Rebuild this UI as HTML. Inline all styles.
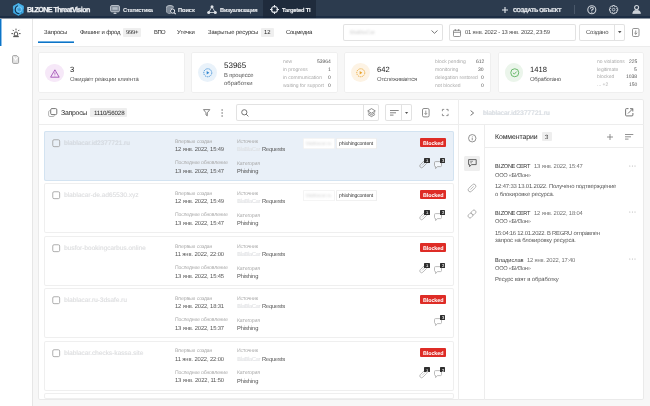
<!DOCTYPE html>
<html><head><meta charset="utf-8"><style>
html,body{margin:0;padding:0;width:650px;height:406px;overflow:hidden;background:#f7f7f7;}
body{position:relative;font-family:"Liberation Sans", sans-serif;}
.t{position:absolute;white-space:nowrap;will-change:transform;text-rendering:geometricPrecision;}
.r{position:absolute;box-sizing:border-box;}
svg.r{overflow:visible;}
</style></head><body>
<div class="r" style="left:0px;top:0px;width:650px;height:406px;background:#f7f7f7;"></div>
<div class="r" style="left:0px;top:0px;width:650px;height:18px;background:#2c3b4e;"></div>
<div class="r" style="left:0px;top:16px;width:650px;height:2px;background:#1c2d44;"></div>
<div class="r" style="left:0px;top:18px;width:650px;height:1px;background:#8d96a1;"></div>
<div class="r" style="left:263px;top:0px;width:53px;height:16px;background:#1f2b3c;"></div>
<div class="r" style="left:263px;top:16px;width:53px;height:2px;background:#18263a;"></div>
<div class="r" style="left:0px;top:19px;width:32px;height:387px;background:#ffffff;"></div>
<div class="r" style="left:32px;top:19px;width:1px;height:387px;background:#e6e6e6;"></div>
<div class="r" style="left:0px;top:19px;width:1px;height:27px;background:#0d74c6;"></div>
<div class="r" style="left:1px;top:19px;width:1px;height:27px;background:#8cc0ea;"></div>
<div class="r" style="left:33px;top:19px;width:617px;height:27px;background:#ffffff;"></div>
<div class="r" style="left:33px;top:46px;width:617px;height:1px;background:#ececec;"></div>
<svg class="r" style="left:12px;top:2px;" width="13" height="15" viewBox="0 0 13 15"><path d="M6.4 1.0 L11.9 4.0 V11.0 L6.4 14.1 L0.9 11.0 V4.0 Z" fill="#3eaae6" stroke="#16283d" stroke-width="0.4"/><path d="M6.4 1.0 L11.9 4.0 V7 L0.9 7 V4.0 Z" fill="#52b9ee" opacity="0.6"/><path d="M4.6 4.2 Q2.2 7.2 3.9 10 Q5 11.6 7.4 11.7" fill="none" stroke="#14304d" stroke-width="1.1"/><circle cx="7.2" cy="7.4" r="2.5" fill="none" stroke="#a5def8" stroke-width="0.6"/><path d="M5 6.4 L9.3 8.4 M5.6 8.8 L8.8 6 M7.2 4.9 V9.9" stroke="#3a8cc4" stroke-width="0.45"/><circle cx="5.4" cy="3.9" r="0.55" fill="#14304d"/><circle cx="9.6" cy="10.9" r="0.45" fill="#14304d"/></svg>
<div class="t" style="left:27.30px;top:6.22px;font-size:7.2px;line-height:7.2px;color:#f2f4f7;font-weight:700;letter-spacing:-0.588px;-webkit-text-stroke:0.25px #f2f4f7;">BI.ZONE ThreatVision</div>
<svg class="r" style="left:110px;top:5px;" width="10" height="9" viewBox="0 0 10 9"><rect x="0.6" y="0.6" width="8.8" height="6.2" rx="1.2" fill="#7d8896" stroke="#c3c9d1" stroke-width="1"/><rect x="2.4" y="2.2" width="5.2" height="2.6" fill="#b4bcc6"/><path d="M3 9 L5 7.3 L7 9 Z" fill="#c3c9d1"/></svg>
<div class="t" style="left:122.80px;top:8.76px;font-size:5.7px;line-height:5.7px;color:#e8ebef;font-weight:700;letter-spacing:-0.2px;-webkit-text-stroke:0.1px currentColor;">Статистика</div>
<svg class="r" style="left:165.5px;top:4.8px;" width="10.5" height="9.5" viewBox="0 0 10.5 9.5"><ellipse cx="4" cy="2" rx="3.4" ry="1.5" fill="#7d8896" stroke="#c3c9d1" stroke-width="0.9"/><path d="M0.6 2 V7.2 Q2 8.6 4.6 8.4 M0.6 4.6 Q2 6 4 6" fill="none" stroke="#c3c9d1" stroke-width="0.9"/><path d="M0.6 2.2 V7 Q2 8.4 4.4 8.2 L4.6 3.4 Q7.4 3.2 7.4 2 Z" fill="#7d8896"/><circle cx="6.6" cy="6.1" r="2.1" fill="#2c3b4e" stroke="#e6e9ee" stroke-width="1"/><path d="M8.1 7.6 L9.7 9.2" stroke="#e6e9ee" stroke-width="1.1"/></svg>
<div class="t" style="left:177.60px;top:8.76px;font-size:5.7px;line-height:5.7px;color:#e8ebef;font-weight:700;letter-spacing:-0.07px;-webkit-text-stroke:0.1px currentColor;">Поиск</div>
<svg class="r" style="left:207px;top:4.8px;" width="10" height="9.5" viewBox="0 0 10 9.5"><path d="M5 1.8 L1.7 7.5 H8.3 Z" fill="none" stroke="#cdd2d9" stroke-width="0.9"/><circle cx="5" cy="1.8" r="1.5" fill="#dfe3e8"/><circle cx="1.7" cy="7.5" r="1.5" fill="#dfe3e8"/><circle cx="8.3" cy="7.5" r="1.5" fill="#dfe3e8"/></svg>
<div class="t" style="left:219.50px;top:8.76px;font-size:5.7px;line-height:5.7px;color:#e8ebef;font-weight:700;letter-spacing:-0.217px;-webkit-text-stroke:0.1px currentColor;">Визуализация</div>
<svg class="r" style="left:269.5px;top:4.8px;" width="9" height="9" viewBox="0 0 9 9"><circle cx="4.5" cy="4.5" r="3" fill="none" stroke="#e6e9ee" stroke-width="1.1"/><path d="M4.5 0 V2.6 M4.5 6.4 V9 M0 4.5 H2.6 M6.4 4.5 H9" stroke="#e6e9ee" stroke-width="1.1"/></svg>
<div class="t" style="left:282.00px;top:8.76px;font-size:5.7px;line-height:5.7px;color:#f2f4f7;font-weight:700;letter-spacing:-0.163px;-webkit-text-stroke:0.1px currentColor;">Targeted TI</div>
<svg class="r" style="left:502px;top:6.5px;" width="6" height="6" viewBox="0 0 6 6"><path d="M3 0 V6 M0 3 H6" stroke="#e6e9ee" stroke-width="1.1"/></svg>
<div class="t" style="left:512.70px;top:8.91px;font-size:5.6px;line-height:5.6px;color:#e8ebef;font-weight:700;letter-spacing:-0.294px;-webkit-text-stroke:0.2px currentColor;">СОЗДАТЬ ОБЪЕКТ</div>
<div class="r" style="left:573.5px;top:5px;width:0.8px;height:8.5px;background:#4a586a;"></div>
<svg class="r" style="left:586.5px;top:5.3px;" width="10" height="10" viewBox="0 0 10 10"><circle cx="4.8" cy="4.7" r="4" fill="none" stroke="#cdd2d9" stroke-width="1.1"/><path d="M3.4 3.7 Q3.4 2.2 4.8 2.2 Q6.3 2.2 6.3 3.6 Q6.3 4.6 4.8 5.1 V5.9" fill="none" stroke="#cdd2d9" stroke-width="1.1"/><circle cx="4.8" cy="7.2" r="0.6" fill="#cdd2d9"/></svg>
<svg class="r" style="left:609px;top:5.4px;" width="10" height="10" viewBox="0 0 10 10"><path d="M8.70 3.68 L8.70 5.52 L7.48 5.75 L7.45 5.82 L8.15 6.85 L6.85 8.15 L5.82 7.45 L5.75 7.48 L5.52 8.70 L3.68 8.70 L3.45 7.48 L3.38 7.45 L2.35 8.15 L1.05 6.85 L1.75 5.82 L1.72 5.75 L0.50 5.52 L0.50 3.68 L1.72 3.45 L1.75 3.38 L1.05 2.35 L2.35 1.05 L3.38 1.75 L3.45 1.72 L3.68 0.50 L5.52 0.50 L5.75 1.72 L5.82 1.75 L6.85 1.05 L8.15 2.35 L7.45 3.38 L7.48 3.45 Z" fill="none" stroke="#cdd2d9" stroke-width="1" stroke-linejoin="round"/><circle cx="4.6" cy="4.6" r="1.3" fill="none" stroke="#cdd2d9" stroke-width="0.9"/></svg>
<svg class="r" style="left:631.5px;top:5.3px;" width="10" height="9" viewBox="0 0 10 9"><circle cx="4.6" cy="2.5" r="2" fill="none" stroke="#cdd2d9" stroke-width="1.1"/><path d="M0.7 8.4 Q0.8 5.3 4.6 5.3 Q8.4 5.3 8.5 8.4 Z" fill="#cdd2d9" stroke="#cdd2d9" stroke-width="0.8"/></svg>
<svg class="r" style="left:11px;top:27.5px;" width="10" height="10" viewBox="0 0 10 10"><path d="M3.3 7.8 V6 Q3.3 3.9 5 3.9 Q6.7 3.9 6.7 6 V7.8 Z" fill="none" stroke="#555" stroke-width="1"/><path d="M2.2 8.6 H7.8" stroke="#555" stroke-width="1.1"/><path d="M5 0.6 V2.3 M1.7 1.9 L2.9 3.1 M8.3 1.9 L7.1 3.1 M0.4 5.6 H2.1 M7.9 5.6 H9.6" stroke="#555" stroke-width="1"/></svg>
<svg class="r" style="left:12.3px;top:54.8px;" width="7.5" height="9" viewBox="0 0 7.5 9"><path d="M0.6 1.6 Q0.6 0.6 1.6 0.6 H4.8 L6.6 2.4 V7.4 Q6.6 8.4 5.6 8.4 H1.6 Q0.6 8.4 0.6 7.4 Z" fill="#e4e4e4" stroke="#9a9a9a" stroke-width="0.9"/><path d="M1.6 1.8 L3.5 4.8 L5.4 2.4" fill="none" stroke="#fff" stroke-width="1.1"/></svg>
<div class="t" style="left:44.20px;top:31.29px;font-size:5.9px;line-height:5.9px;color:#2a2a2a;font-weight:400;letter-spacing:-0.094px;">Запросы</div>
<div class="r" style="left:38px;top:42px;width:36px;height:1px;background:#0d74c6;"></div>
<div class="r" style="left:38px;top:41px;width:36px;height:1px;background:#6aaee3;"></div>
<div class="t" style="left:79.50px;top:31.29px;font-size:5.9px;line-height:5.9px;color:#2a2a2a;font-weight:400;letter-spacing:-0.172px;">Фишинг и фрод</div>
<div class="r" style="left:122.7px;top:27.5px;width:18.5px;height:9.3px;background:#efefef;border-radius:1px;"></div>
<div class="t" style="left:125.80px;top:31.29px;font-size:5.9px;line-height:5.9px;color:#2a2a2a;font-weight:400;letter-spacing:-0.294px;">999+</div>
<div class="t" style="left:153.50px;top:31.29px;font-size:5.9px;line-height:5.9px;color:#2a2a2a;font-weight:400;letter-spacing:-0.525px;">ВПО</div>
<div class="t" style="left:177.30px;top:31.29px;font-size:5.9px;line-height:5.9px;color:#2a2a2a;font-weight:400;letter-spacing:-0.118px;">Утечки</div>
<div class="t" style="left:208.00px;top:31.29px;font-size:5.9px;line-height:5.9px;color:#2a2a2a;font-weight:400;letter-spacing:-0.094px;">Закрытые ресурсы</div>
<div class="r" style="left:261px;top:27.6px;width:12.6px;height:9px;background:#efefef;border-radius:1px;"></div>
<div class="t" style="left:263.60px;top:31.29px;font-size:5.9px;line-height:5.9px;color:#2a2a2a;font-weight:400;">12</div>
<div class="t" style="left:286.40px;top:31.29px;font-size:5.9px;line-height:5.9px;color:#2a2a2a;font-weight:400;letter-spacing:-0.244px;">Соцмедиа</div>
<div class="r" style="left:343px;top:24px;width:100px;height:17px;background:#fff;box-shadow:inset 0 0 0 1px #e2e2e2;border-radius:2px;"></div>
<div class="t" style="left:349.70px;top:31.32px;font-size:5.6px;line-height:5.6px;color:#d0d0d0;font-weight:400;filter:blur(0.8px);">BlaBlaCar</div>
<svg class="r" style="left:431px;top:30px;" width="7" height="4" viewBox="0 0 7 4"><path d="M0.5 0.5 L3.5 3.3 L6.5 0.5" fill="none" stroke="#666" stroke-width="0.9"/></svg>
<div class="r" style="left:449px;top:24px;width:127px;height:17px;background:#fff;box-shadow:inset 0 0 0 1px #e2e2e2;border-radius:2px;"></div>
<svg class="r" style="left:453px;top:28.5px;" width="8" height="8" viewBox="0 0 8 8"><rect x="0.5" y="1.3" width="7" height="6.2" rx="0.8" fill="none" stroke="#777" stroke-width="0.8"/><path d="M0.5 3.3 H7.5 M2.3 0 V2 M5.7 0 V2" stroke="#777" stroke-width="0.8"/></svg>
<div class="t" style="left:465.00px;top:31.32px;font-size:5.8px;line-height:5.8px;color:#4a4a4a;font-weight:400;letter-spacing:-0.154px;">01 янв. 2022 - 13 янв. 2022, 23:59</div>
<div class="r" style="left:579px;top:24px;width:46px;height:17px;background:#fff;box-shadow:inset 0 0 0 1px #e2e2e2;border-radius:2px;"></div>
<div class="r" style="left:614px;top:24px;width:1px;height:17px;background:#e2e2e2;"></div>
<div class="t" style="left:585.70px;top:31.29px;font-size:5.9px;line-height:5.9px;color:#4a4a4a;font-weight:400;letter-spacing:-0.13px;">Создано</div>
<svg class="r" style="left:617.5px;top:31px;" width="3.5" height="2.5" viewBox="0 0 3.5 2.5"><path d="M0 0 H3.5 L1.75 2.2 Z" fill="#555"/></svg>
<svg class="r" style="left:632px;top:28px;" width="8" height="9" viewBox="0 0 8 9"><rect x="0.5" y="0.5" width="6.5" height="8" rx="1.2" fill="none" stroke="#777" stroke-width="0.8"/><path d="M3.75 2.5 V6.2 M2.3 4.9 L3.75 6.3 L5.2 4.9" fill="none" stroke="#777" stroke-width="0.8"/></svg>
<div class="r" style="left:38px;top:52px;width:147px;height:41px;background:#fff;box-shadow:inset 0 0 0 1px #efefef;border-radius:2px;"></div>
<div class="r" style="left:191px;top:52px;width:147px;height:41px;background:#fff;box-shadow:inset 0 0 0 1px #efefef;border-radius:2px;"></div>
<div class="r" style="left:344px;top:52px;width:147px;height:41px;background:#fff;box-shadow:inset 0 0 0 1px #efefef;border-radius:2px;"></div>
<div class="r" style="left:498px;top:52px;width:146px;height:41px;background:#fff;box-shadow:inset 0 0 0 1px #efefef;border-radius:2px;"></div>
<div class="r" style="left:44.9px;top:63.5px;width:18.7px;height:18.7px;background:#f6e8f8;border-radius:10px;"></div>
<svg class="r" style="left:49.7px;top:68.5px;" width="10" height="9" viewBox="0 0 10 9"><path d="M4.9 0.8 L9.2 8.2 H0.6 Z" fill="none" stroke="#a150b5" stroke-width="0.9" stroke-linejoin="round"/><path d="M4.9 3.4 V5.7" stroke="#a150b5" stroke-width="0.8"/><circle cx="4.9" cy="6.9" r="0.4" fill="#a150b5"/></svg>
<div class="t" style="left:70.30px;top:65.90px;font-size:7.6px;line-height:7.6px;color:#222;font-weight:400;">3</div>
<div class="t" style="left:70.30px;top:77.59px;font-size:5.9px;line-height:5.9px;color:#555;font-weight:400;letter-spacing:-0.139px;">Ожидает реакции клиента</div>
<div class="r" style="left:198px;top:63.4px;width:18.8px;height:18.8px;background:#e9f2fa;border-radius:10px;"></div>
<svg class="r" style="left:203px;top:68.3px;" width="9.5" height="9.5" viewBox="0 0 9.5 9.5"><circle cx="4.75" cy="4.75" r="4" fill="none" stroke="#2f86d2" stroke-width="0.9" stroke-dasharray="1.2 0.8"/><path d="M3.7 3 L6.3 4.75 L3.7 6.5 Z" fill="#2f86d2"/></svg>
<div class="t" style="left:223.50px;top:62.13px;font-size:8px;line-height:8px;color:#222;font-weight:400;">53965</div>
<div class="t" style="left:223.50px;top:74.19px;font-size:5.9px;line-height:5.9px;color:#555;font-weight:400;letter-spacing:-0.174px;">В процессе</div>
<div class="t" style="left:223.50px;top:81.59px;font-size:5.9px;line-height:5.9px;color:#555;font-weight:400;letter-spacing:0.025px;">обработки</div>
<div class="t" style="left:283.00px;top:60.14px;font-size:5px;line-height:5px;color:#aaa;font-weight:400;">new</div>
<div class="t" style="right:319.20px;top:60.14px;font-size:5px;line-height:5px;color:#555;font-weight:400;">53964</div>
<div class="t" style="left:283.00px;top:67.94px;font-size:5px;line-height:5px;color:#aaa;font-weight:400;">in progress</div>
<div class="t" style="right:319.20px;top:67.94px;font-size:5px;line-height:5px;color:#555;font-weight:400;">1</div>
<div class="t" style="left:283.00px;top:75.74px;font-size:5px;line-height:5px;color:#aaa;font-weight:400;">in communication</div>
<div class="t" style="right:319.20px;top:75.74px;font-size:5px;line-height:5px;color:#555;font-weight:400;">0</div>
<div class="t" style="left:283.00px;top:83.54px;font-size:5px;line-height:5px;color:#aaa;font-weight:400;">waiting for support</div>
<div class="t" style="right:319.20px;top:83.54px;font-size:5px;line-height:5px;color:#555;font-weight:400;">0</div>
<div class="r" style="left:351.4px;top:63.4px;width:18.8px;height:18.8px;background:#fdf3e4;border-radius:10px;"></div>
<svg class="r" style="left:356px;top:68.3px;" width="9.5" height="9.5" viewBox="0 0 9.5 9.5"><circle cx="4.75" cy="4.75" r="4" fill="none" stroke="#e9a32a" stroke-width="0.9" stroke-dasharray="1.2 0.8"/><path d="M3.7 3 L6.3 4.75 L3.7 6.5 Z" fill="#e9a32a"/></svg>
<div class="t" style="left:376.80px;top:65.90px;font-size:7.6px;line-height:7.6px;color:#222;font-weight:400;">642</div>
<div class="t" style="left:376.80px;top:77.59px;font-size:5.9px;line-height:5.9px;color:#555;font-weight:400;letter-spacing:-0.178px;">Отслеживается</div>
<div class="t" style="left:435.40px;top:60.14px;font-size:5px;line-height:5px;color:#aaa;font-weight:400;">block pending</div>
<div class="t" style="right:166.00px;top:60.14px;font-size:5px;line-height:5px;color:#555;font-weight:400;">612</div>
<div class="t" style="left:435.40px;top:67.94px;font-size:5px;line-height:5px;color:#aaa;font-weight:400;">monitoring</div>
<div class="t" style="right:166.00px;top:67.94px;font-size:5px;line-height:5px;color:#555;font-weight:400;">30</div>
<div class="t" style="left:435.40px;top:75.74px;font-size:5px;line-height:5px;color:#aaa;font-weight:400;">delegation restored</div>
<div class="t" style="right:166.00px;top:75.74px;font-size:5px;line-height:5px;color:#555;font-weight:400;">0</div>
<div class="t" style="left:435.40px;top:83.54px;font-size:5px;line-height:5px;color:#aaa;font-weight:400;">not blocked</div>
<div class="t" style="right:166.00px;top:83.54px;font-size:5px;line-height:5px;color:#555;font-weight:400;">0</div>
<div class="r" style="left:504.7px;top:63.4px;width:18.8px;height:18.8px;background:#ebf5eb;border-radius:10px;"></div>
<svg class="r" style="left:509.5px;top:68.3px;" width="9.5" height="9.5" viewBox="0 0 9.5 9.5"><circle cx="4.75" cy="4.75" r="4" fill="none" stroke="#5cb35f" stroke-width="0.9"/><path d="M2.9 4.8 L4.3 6.1 L6.6 3.6" fill="none" stroke="#5cb35f" stroke-width="0.9"/></svg>
<div class="t" style="left:530.00px;top:65.90px;font-size:7.6px;line-height:7.6px;color:#222;font-weight:400;">1418</div>
<div class="t" style="left:530.00px;top:77.59px;font-size:5.9px;line-height:5.9px;color:#555;font-weight:400;letter-spacing:-0.263px;">Обработано</div>
<div class="t" style="left:597.00px;top:59.74px;font-size:5px;line-height:5px;color:#aaa;font-weight:400;">no violations</div>
<div class="t" style="right:13.00px;top:59.74px;font-size:5px;line-height:5px;color:#555;font-weight:400;">225</div>
<div class="t" style="left:597.00px;top:67.59px;font-size:5px;line-height:5px;color:#aaa;font-weight:400;">legitimate</div>
<div class="t" style="right:13.00px;top:67.59px;font-size:5px;line-height:5px;color:#555;font-weight:400;">5</div>
<div class="t" style="left:597.00px;top:75.44px;font-size:5px;line-height:5px;color:#aaa;font-weight:400;">blocked</div>
<div class="t" style="right:13.00px;top:75.44px;font-size:5px;line-height:5px;color:#555;font-weight:400;">1038</div>
<div class="t" style="left:597.00px;top:83.29px;font-size:5px;line-height:5px;color:#aaa;font-weight:400;">... +2</div>
<div class="t" style="right:13.00px;top:83.29px;font-size:5px;line-height:5px;color:#555;font-weight:400;">150</div>
<div class="r" style="left:38px;top:99px;width:606px;height:301px;background:#fff;box-shadow:inset 0 0 0 1px #eaeaea;border-radius:2px;"></div>
<div class="r" style="left:458px;top:99px;width:1px;height:301px;background:#ededed;"></div>
<div class="r" style="left:38px;top:124px;width:606px;height:1px;background:#ededed;"></div>
<div class="r" style="left:484px;top:124px;width:1px;height:276px;background:#ededed;"></div>
<div class="r" style="left:485px;top:147px;width:158px;height:1px;background:#ededed;"></div>
<svg class="r" style="left:48px;top:108.3px;" width="9.5" height="9" viewBox="0 0 9.5 9"><path d="M1.9 2.6 Q0.6 2.6 0.6 3.9 V7.3 Q0.6 8.5 1.9 8.5 H5.2 Q6.4 8.5 6.4 7.3" fill="none" stroke="#aaa" stroke-width="0.9"/><rect x="2.7" y="0.6" width="6.1" height="6" rx="1.2" fill="#fff" stroke="#666" stroke-width="0.9"/></svg>
<div class="t" style="left:60.80px;top:111.14px;font-size:6.9px;line-height:6.9px;color:#262626;font-weight:400;letter-spacing:-0.249px;">Запросы</div>
<div class="r" style="left:90px;top:108px;width:37px;height:9px;background:#eeeeee;border-radius:1px;"></div>
<div class="t" style="left:93.60px;top:111.10px;font-size:6.2px;line-height:6.2px;color:#262626;font-weight:400;letter-spacing:-0.131px;">1110/56028</div>
<svg class="r" style="left:203px;top:109px;" width="7.5" height="7.5" viewBox="0 0 7.5 7.5"><path d="M0.5 0.6 H6.8 L4.3 3.8 V6.8 L3 6 V3.8 Z" fill="none" stroke="#666" stroke-width="0.8" stroke-linejoin="round"/></svg>
<svg class="r" style="left:221px;top:109px;" width="2.5" height="8" viewBox="0 0 2.5 8"><circle cx="1.1" cy="1" r="0.65" fill="#555"/><circle cx="1.1" cy="4" r="0.65" fill="#555"/><circle cx="1.1" cy="7" r="0.65" fill="#555"/></svg>
<div class="r" style="left:236px;top:104px;width:143px;height:17px;background:#fff;box-shadow:inset 0 0 0 1px #e2e2e2;border-radius:2px;"></div>
<div class="r" style="left:363px;top:104px;width:1px;height:17px;background:#e2e2e2;"></div>
<svg class="r" style="left:240.5px;top:108.5px;" width="8" height="8" viewBox="0 0 8 8"><circle cx="3.3" cy="3.3" r="2.6" fill="none" stroke="#666" stroke-width="0.9"/><path d="M5.2 5.2 L7.4 7.4" stroke="#666" stroke-width="0.9"/></svg>
<svg class="r" style="left:366.8px;top:107.8px;" width="9" height="9.5" viewBox="0 0 9 9.5"><path d="M4.5 0.6 L8.3 2.9 L4.5 5.2 L0.7 2.9 Z" fill="none" stroke="#777" stroke-width="0.85" stroke-linejoin="round"/><path d="M0.9 4.6 L4.5 6.8 L8.1 4.6 M0.9 6.4 L4.5 8.6 L8.1 6.4" fill="none" stroke="#777" stroke-width="0.85" stroke-linejoin="round"/></svg>
<div class="r" style="left:385px;top:104px;width:27px;height:17px;background:#fff;box-shadow:inset 0 0 0 1px #e2e2e2;border-radius:2px;"></div>
<div class="r" style="left:401px;top:104px;width:1px;height:17px;background:#e2e2e2;"></div>
<svg class="r" style="left:389.5px;top:109.5px;" width="9" height="6" viewBox="0 0 9 6"><path d="M0 0.5 H8.7 M0 2.8 H6 M0 5.1 H3.5" stroke="#666" stroke-width="0.8"/></svg>
<svg class="r" style="left:405.2px;top:111.5px;" width="3.2" height="2.2" viewBox="0 0 3.2 2.2"><path d="M0 0 H3.2 L1.6 2 Z" fill="#555"/></svg>
<svg class="r" style="left:422.3px;top:108.2px;" width="8" height="9.5" viewBox="0 0 8 9.5"><rect x="0.5" y="0.5" width="6.6" height="8.4" rx="1.4" fill="none" stroke="#777" stroke-width="0.85"/><path d="M3.8 2.6 V6.4 M2.5 5.1 L3.8 6.5 L5.1 5.1" fill="none" stroke="#777" stroke-width="0.75"/></svg>
<svg class="r" style="left:442px;top:109.3px;" width="6.5" height="7" viewBox="0 0 6.5 7"><path d="M0.4 2.2 V0.4 H2.2 M4.3 0.4 H6.1 V2.2 M6.1 4.8 V6.6 H4.3 M2.2 6.6 H0.4 V4.8" fill="none" stroke="#777" stroke-width="0.8"/></svg>
<div class="r" style="left:44px;top:131px;width:410px;height:50px;background:#e9f0f8;box-shadow:inset 0 0 0 1px #d3e3f1;border-radius:2px;"></div>
<svg class="r" style="left:52px;top:138.9px;" width="8.5" height="8.5" viewBox="0 0 8.5 8.5"><rect x="0.75" y="0.75" width="6.9" height="6.9" rx="1.3" fill="none" stroke="#a0a0a0" stroke-width="0.85"/></svg>
<div class="t" style="left:64.00px;top:141.29px;font-size:6.5px;line-height:6.5px;color:#d3d9e0;font-weight:400;text-shadow:0.45px 0.3px 0 #dde2e8, -0.3px -0.2px 0 #e3e7ec;">blablacar.id2377721.ru</div>
<div class="t" style="left:174.80px;top:139.60px;font-size:5.1px;line-height:5.1px;color:#a8a8a8;font-weight:400;letter-spacing:-0.098px;">Впервые создан</div>
<div class="t" style="left:174.80px;top:147.92px;font-size:5.8px;line-height:5.8px;color:#555;font-weight:400;letter-spacing:-0.124px;">12 янв. 2022, 15:49</div>
<div class="t" style="left:174.80px;top:161.20px;font-size:5.1px;line-height:5.1px;color:#a8a8a8;font-weight:400;letter-spacing:-0.163px;">Последнее обновление</div>
<div class="t" style="left:174.80px;top:169.72px;font-size:5.8px;line-height:5.8px;color:#555;font-weight:400;letter-spacing:-0.124px;">13 янв. 2022, 15:47</div>
<div class="t" style="left:236.90px;top:139.70px;font-size:5.1px;line-height:5.1px;color:#a8a8a8;font-weight:400;letter-spacing:-0.107px;">Источник</div>
<div class="t" style="left:236.90px;top:148.42px;font-size:5.8px;line-height:5.8px;color:#d9dee4;font-weight:400;letter-spacing:-0.339px;text-shadow:0.4px 0.3px 0 #ebecee;">BlaBlaCar</div>
<div class="t" style="left:262.10px;top:148.42px;font-size:5.8px;line-height:5.8px;color:#555;font-weight:400;letter-spacing:-0.2px;">Requests</div>
<div class="t" style="left:236.90px;top:161.70px;font-size:5.1px;line-height:5.1px;color:#a8a8a8;font-weight:400;letter-spacing:-0.102px;">Категория</div>
<div class="t" style="left:236.90px;top:169.92px;font-size:5.8px;line-height:5.8px;color:#555;font-weight:400;letter-spacing:-0.121px;">Phishing</div>
<div class="r" style="left:302.5px;top:138.1px;width:32px;height:11px;background:#fff;box-shadow:inset 0 0 0 0.6px #ececec;border-radius:1.5px;"></div>
<div class="t" style="left:306.00px;top:143.37px;font-size:4.9px;line-height:4.9px;color:#d0d0d0;font-weight:400;filter:blur(0.8px);">blablacar.ru</div>
<div class="r" style="left:336.3px;top:138.1px;width:40.7px;height:11px;background:#fff;box-shadow:inset 0 0 0 0.6px #e3e3e3;border-radius:1.5px;"></div>
<div class="t" style="left:339.40px;top:142.39px;font-size:5.2px;line-height:5.2px;color:#333;font-weight:400;letter-spacing:-0.146px;">phishingcontent</div>
<div class="r" style="left:420.3px;top:138.1px;width:26px;height:9.3px;background:#de2c26;border-radius:1px;"></div>
<div class="t" style="left:423.00px;top:142.06px;font-size:5.4px;line-height:5.4px;color:#fff;font-weight:700;letter-spacing:-0.08px;">Blocked</div>
<svg class="r" style="left:418.5px;top:159.4px;" width="9" height="10" viewBox="0 0 9 10"><g transform="rotate(45 4.5 5)"><rect x="2.7" y="0.5" width="3.6" height="9" rx="1.8" fill="none" stroke="#a0a0a0" stroke-width="0.8"/><path d="M4.5 2.4 V7" stroke="#a0a0a0" stroke-width="0.6"/></g></svg>
<div class="r" style="left:424.2px;top:157.70000000000002px;width:5.4px;height:5.2px;background:#2f2f2f;border-radius:0.6px;"></div>
<div class="t" style="left:425.60px;top:159.02px;font-size:4.2px;line-height:4.2px;color:#ddd;font-weight:700;">1</div>
<svg class="r" style="left:433.8px;top:160.70000000000002px;" width="9.5" height="8.5" viewBox="0 0 9.5 8.5"><path d="M1.5 0.6 H6.5 Q7.5 0.6 7.5 1.6 V4.6 Q7.5 5.6 6.5 5.6 H3.4 L1.6 7.6 V5.6 Q0.5 5.6 0.5 4.6 V1.6 Q0.5 0.6 1.5 0.6 Z" fill="#fff" fill-opacity="0.5" stroke="#a0a0a0" stroke-width="0.85" stroke-linejoin="round"/></svg>
<div class="r" style="left:440.2px;top:157.70000000000002px;width:5.3px;height:5.2px;background:#2f2f2f;border-radius:0.6px;"></div>
<div class="t" style="left:441.50px;top:159.02px;font-size:4.2px;line-height:4.2px;color:#ddd;font-weight:700;">3</div>
<div class="r" style="left:44px;top:183px;width:410px;height:50px;background:#fff;box-shadow:inset 0 0 0 1px #efefef;border-radius:2px;"></div>
<svg class="r" style="left:52px;top:190.9px;" width="8.5" height="8.5" viewBox="0 0 8.5 8.5"><rect x="0.75" y="0.75" width="6.9" height="6.9" rx="1.3" fill="none" stroke="#a0a0a0" stroke-width="0.85"/></svg>
<div class="t" style="left:64.00px;top:193.29px;font-size:6.5px;line-height:6.5px;color:#dedfe1;font-weight:400;text-shadow:0.4px 0.3px 0 #ebebec;">blablacar-de.ad65530.xyz</div>
<div class="t" style="left:174.80px;top:191.60px;font-size:5.1px;line-height:5.1px;color:#a8a8a8;font-weight:400;letter-spacing:-0.098px;">Впервые создан</div>
<div class="t" style="left:174.80px;top:199.92px;font-size:5.8px;line-height:5.8px;color:#555;font-weight:400;letter-spacing:-0.124px;">12 янв. 2022, 15:49</div>
<div class="t" style="left:174.80px;top:213.20px;font-size:5.1px;line-height:5.1px;color:#a8a8a8;font-weight:400;letter-spacing:-0.163px;">Последнее обновление</div>
<div class="t" style="left:174.80px;top:221.72px;font-size:5.8px;line-height:5.8px;color:#555;font-weight:400;letter-spacing:-0.124px;">13 янв. 2022, 15:47</div>
<div class="t" style="left:236.90px;top:191.70px;font-size:5.1px;line-height:5.1px;color:#a8a8a8;font-weight:400;letter-spacing:-0.107px;">Источник</div>
<div class="t" style="left:236.90px;top:200.42px;font-size:5.8px;line-height:5.8px;color:#e4e5e7;font-weight:400;letter-spacing:-0.339px;text-shadow:0.4px 0.3px 0 #ebecee;">BlaBlaCar</div>
<div class="t" style="left:262.10px;top:200.42px;font-size:5.8px;line-height:5.8px;color:#555;font-weight:400;letter-spacing:-0.2px;">Requests</div>
<div class="t" style="left:236.90px;top:213.70px;font-size:5.1px;line-height:5.1px;color:#a8a8a8;font-weight:400;letter-spacing:-0.102px;">Категория</div>
<div class="t" style="left:236.90px;top:221.92px;font-size:5.8px;line-height:5.8px;color:#555;font-weight:400;letter-spacing:-0.121px;">Phishing</div>
<div class="r" style="left:302.5px;top:190.1px;width:32px;height:11px;background:#fff;box-shadow:inset 0 0 0 0.6px #ececec;border-radius:1.5px;"></div>
<div class="t" style="left:306.00px;top:195.37px;font-size:4.9px;line-height:4.9px;color:#d0d0d0;font-weight:400;filter:blur(0.8px);">blablacar.ru</div>
<div class="r" style="left:336.3px;top:190.1px;width:40.7px;height:11px;background:#fff;box-shadow:inset 0 0 0 0.6px #e3e3e3;border-radius:1.5px;"></div>
<div class="t" style="left:339.40px;top:194.39px;font-size:5.2px;line-height:5.2px;color:#333;font-weight:400;letter-spacing:-0.146px;">phishingcontent</div>
<div class="r" style="left:420.3px;top:190.1px;width:26px;height:9.3px;background:#de2c26;border-radius:1px;"></div>
<div class="t" style="left:423.00px;top:194.06px;font-size:5.4px;line-height:5.4px;color:#fff;font-weight:700;letter-spacing:-0.08px;">Blocked</div>
<svg class="r" style="left:418.5px;top:211.4px;" width="9" height="10" viewBox="0 0 9 10"><g transform="rotate(45 4.5 5)"><rect x="2.7" y="0.5" width="3.6" height="9" rx="1.8" fill="none" stroke="#b0b0b0" stroke-width="0.8"/><path d="M4.5 2.4 V7" stroke="#b0b0b0" stroke-width="0.6"/></g></svg>
<div class="r" style="left:424.2px;top:209.70000000000002px;width:5.4px;height:5.2px;background:#2f2f2f;border-radius:0.6px;"></div>
<div class="t" style="left:425.60px;top:211.02px;font-size:4.2px;line-height:4.2px;color:#ddd;font-weight:700;">1</div>
<svg class="r" style="left:433.8px;top:212.70000000000002px;" width="9.5" height="8.5" viewBox="0 0 9.5 8.5"><path d="M1.5 0.6 H6.5 Q7.5 0.6 7.5 1.6 V4.6 Q7.5 5.6 6.5 5.6 H3.4 L1.6 7.6 V5.6 Q0.5 5.6 0.5 4.6 V1.6 Q0.5 0.6 1.5 0.6 Z" fill="#fff" fill-opacity="0.5" stroke="#b0b0b0" stroke-width="0.85" stroke-linejoin="round"/></svg>
<div class="r" style="left:440.2px;top:209.70000000000002px;width:5.3px;height:5.2px;background:#2f2f2f;border-radius:0.6px;"></div>
<div class="t" style="left:441.50px;top:211.02px;font-size:4.2px;line-height:4.2px;color:#ddd;font-weight:700;">2</div>
<div class="r" style="left:44px;top:236px;width:410px;height:50px;background:#fff;box-shadow:inset 0 0 0 1px #efefef;border-radius:2px;"></div>
<svg class="r" style="left:52px;top:243.9px;" width="8.5" height="8.5" viewBox="0 0 8.5 8.5"><rect x="0.75" y="0.75" width="6.9" height="6.9" rx="1.3" fill="none" stroke="#a0a0a0" stroke-width="0.85"/></svg>
<div class="t" style="left:64.00px;top:246.29px;font-size:6.5px;line-height:6.5px;color:#dedfe1;font-weight:400;text-shadow:0.4px 0.3px 0 #ebebec;">busfor-bookingcarbus.online</div>
<div class="t" style="left:174.80px;top:244.60px;font-size:5.1px;line-height:5.1px;color:#a8a8a8;font-weight:400;letter-spacing:-0.098px;">Впервые создан</div>
<div class="t" style="left:174.80px;top:252.92px;font-size:5.8px;line-height:5.8px;color:#555;font-weight:400;letter-spacing:-0.1px;">11 янв. 2022, 22:00</div>
<div class="t" style="left:174.80px;top:266.20px;font-size:5.1px;line-height:5.1px;color:#a8a8a8;font-weight:400;letter-spacing:-0.163px;">Последнее обновление</div>
<div class="t" style="left:174.80px;top:274.72px;font-size:5.8px;line-height:5.8px;color:#555;font-weight:400;letter-spacing:-0.124px;">13 янв. 2022, 15:45</div>
<div class="t" style="left:236.90px;top:244.70px;font-size:5.1px;line-height:5.1px;color:#a8a8a8;font-weight:400;letter-spacing:-0.107px;">Источник</div>
<div class="t" style="left:236.90px;top:253.42px;font-size:5.8px;line-height:5.8px;color:#e4e5e7;font-weight:400;letter-spacing:-0.339px;text-shadow:0.4px 0.3px 0 #ebecee;">BlaBlaCar</div>
<div class="t" style="left:262.10px;top:253.42px;font-size:5.8px;line-height:5.8px;color:#555;font-weight:400;letter-spacing:-0.2px;">Requests</div>
<div class="t" style="left:236.90px;top:266.70px;font-size:5.1px;line-height:5.1px;color:#a8a8a8;font-weight:400;letter-spacing:-0.102px;">Категория</div>
<div class="t" style="left:236.90px;top:274.92px;font-size:5.8px;line-height:5.8px;color:#555;font-weight:400;letter-spacing:-0.121px;">Phishing</div>
<div class="r" style="left:420.3px;top:243.1px;width:26px;height:9.3px;background:#de2c26;border-radius:1px;"></div>
<div class="t" style="left:423.00px;top:247.06px;font-size:5.4px;line-height:5.4px;color:#fff;font-weight:700;letter-spacing:-0.08px;">Blocked</div>
<svg class="r" style="left:418.5px;top:264.4px;" width="9" height="10" viewBox="0 0 9 10"><g transform="rotate(45 4.5 5)"><rect x="2.7" y="0.5" width="3.6" height="9" rx="1.8" fill="none" stroke="#b0b0b0" stroke-width="0.8"/><path d="M4.5 2.4 V7" stroke="#b0b0b0" stroke-width="0.6"/></g></svg>
<div class="r" style="left:424.2px;top:262.70000000000005px;width:5.4px;height:5.2px;background:#2f2f2f;border-radius:0.6px;"></div>
<div class="t" style="left:425.60px;top:264.02px;font-size:4.2px;line-height:4.2px;color:#ddd;font-weight:700;">1</div>
<svg class="r" style="left:433.8px;top:265.70000000000005px;" width="9.5" height="8.5" viewBox="0 0 9.5 8.5"><path d="M1.5 0.6 H6.5 Q7.5 0.6 7.5 1.6 V4.6 Q7.5 5.6 6.5 5.6 H3.4 L1.6 7.6 V5.6 Q0.5 5.6 0.5 4.6 V1.6 Q0.5 0.6 1.5 0.6 Z" fill="#fff" fill-opacity="0.5" stroke="#b0b0b0" stroke-width="0.85" stroke-linejoin="round"/></svg>
<div class="r" style="left:440.2px;top:262.70000000000005px;width:5.3px;height:5.2px;background:#2f2f2f;border-radius:0.6px;"></div>
<div class="t" style="left:441.50px;top:264.02px;font-size:4.2px;line-height:4.2px;color:#ddd;font-weight:700;">2</div>
<div class="r" style="left:44px;top:288px;width:410px;height:50px;background:#fff;box-shadow:inset 0 0 0 1px #efefef;border-radius:2px;"></div>
<svg class="r" style="left:52px;top:295.9px;" width="8.5" height="8.5" viewBox="0 0 8.5 8.5"><rect x="0.75" y="0.75" width="6.9" height="6.9" rx="1.3" fill="none" stroke="#a0a0a0" stroke-width="0.85"/></svg>
<div class="t" style="left:64.00px;top:298.29px;font-size:6.5px;line-height:6.5px;color:#dedfe1;font-weight:400;text-shadow:0.4px 0.3px 0 #ebebec;">blablacar.ru-3dsafe.ru</div>
<div class="t" style="left:174.80px;top:296.60px;font-size:5.1px;line-height:5.1px;color:#a8a8a8;font-weight:400;letter-spacing:-0.098px;">Впервые создан</div>
<div class="t" style="left:174.80px;top:304.92px;font-size:5.8px;line-height:5.8px;color:#555;font-weight:400;letter-spacing:-0.124px;">12 янв. 2022, 18:31</div>
<div class="t" style="left:174.80px;top:318.20px;font-size:5.1px;line-height:5.1px;color:#a8a8a8;font-weight:400;letter-spacing:-0.163px;">Последнее обновление</div>
<div class="t" style="left:174.80px;top:326.72px;font-size:5.8px;line-height:5.8px;color:#555;font-weight:400;letter-spacing:-0.124px;">13 янв. 2022, 15:37</div>
<div class="t" style="left:236.90px;top:296.70px;font-size:5.1px;line-height:5.1px;color:#a8a8a8;font-weight:400;letter-spacing:-0.107px;">Источник</div>
<div class="t" style="left:236.90px;top:305.42px;font-size:5.8px;line-height:5.8px;color:#e4e5e7;font-weight:400;letter-spacing:-0.339px;text-shadow:0.4px 0.3px 0 #ebecee;">BlaBlaCar</div>
<div class="t" style="left:262.10px;top:305.42px;font-size:5.8px;line-height:5.8px;color:#555;font-weight:400;letter-spacing:-0.2px;">Requests</div>
<div class="t" style="left:236.90px;top:318.70px;font-size:5.1px;line-height:5.1px;color:#a8a8a8;font-weight:400;letter-spacing:-0.102px;">Категория</div>
<div class="t" style="left:236.90px;top:326.92px;font-size:5.8px;line-height:5.8px;color:#555;font-weight:400;letter-spacing:-0.121px;">Phishing</div>
<div class="r" style="left:420.3px;top:295.1px;width:26px;height:9.3px;background:#de2c26;border-radius:1px;"></div>
<div class="t" style="left:423.00px;top:299.06px;font-size:5.4px;line-height:5.4px;color:#fff;font-weight:700;letter-spacing:-0.08px;">Blocked</div>
<svg class="r" style="left:433.8px;top:317.70000000000005px;" width="9.5" height="8.5" viewBox="0 0 9.5 8.5"><path d="M1.5 0.6 H6.5 Q7.5 0.6 7.5 1.6 V4.6 Q7.5 5.6 6.5 5.6 H3.4 L1.6 7.6 V5.6 Q0.5 5.6 0.5 4.6 V1.6 Q0.5 0.6 1.5 0.6 Z" fill="#fff" fill-opacity="0.5" stroke="#b0b0b0" stroke-width="0.85" stroke-linejoin="round"/></svg>
<div class="r" style="left:440.2px;top:314.70000000000005px;width:5.3px;height:5.2px;background:#2f2f2f;border-radius:0.6px;"></div>
<div class="t" style="left:441.50px;top:316.02px;font-size:4.2px;line-height:4.2px;color:#ddd;font-weight:700;">3</div>
<div class="r" style="left:44px;top:340.6px;width:410px;height:50px;background:#fff;box-shadow:inset 0 0 0 1px #efefef;border-radius:2px;"></div>
<svg class="r" style="left:52px;top:348.5px;" width="8.5" height="8.5" viewBox="0 0 8.5 8.5"><rect x="0.75" y="0.75" width="6.9" height="6.9" rx="1.3" fill="none" stroke="#a0a0a0" stroke-width="0.85"/></svg>
<div class="t" style="left:64.00px;top:350.89px;font-size:6.5px;line-height:6.5px;color:#dedfe1;font-weight:400;text-shadow:0.4px 0.3px 0 #ebebec;">blablacar.checks-kassa.site</div>
<div class="t" style="left:174.80px;top:349.20px;font-size:5.1px;line-height:5.1px;color:#a8a8a8;font-weight:400;letter-spacing:-0.098px;">Впервые создан</div>
<div class="t" style="left:174.80px;top:357.52px;font-size:5.8px;line-height:5.8px;color:#555;font-weight:400;letter-spacing:-0.1px;">11 янв. 2022, 22:00</div>
<div class="t" style="left:174.80px;top:370.80px;font-size:5.1px;line-height:5.1px;color:#a8a8a8;font-weight:400;letter-spacing:-0.163px;">Последнее обновление</div>
<div class="t" style="left:174.80px;top:379.32px;font-size:5.8px;line-height:5.8px;color:#555;font-weight:400;letter-spacing:-0.1px;">13 янв. 2022, 11:50</div>
<div class="t" style="left:236.90px;top:349.30px;font-size:5.1px;line-height:5.1px;color:#a8a8a8;font-weight:400;letter-spacing:-0.107px;">Источник</div>
<div class="t" style="left:236.90px;top:358.02px;font-size:5.8px;line-height:5.8px;color:#e4e5e7;font-weight:400;letter-spacing:-0.339px;text-shadow:0.4px 0.3px 0 #ebecee;">BlaBlaCar</div>
<div class="t" style="left:262.10px;top:358.02px;font-size:5.8px;line-height:5.8px;color:#555;font-weight:400;letter-spacing:-0.2px;">Requests</div>
<div class="t" style="left:236.90px;top:371.30px;font-size:5.1px;line-height:5.1px;color:#a8a8a8;font-weight:400;letter-spacing:-0.102px;">Категория</div>
<div class="t" style="left:236.90px;top:379.52px;font-size:5.8px;line-height:5.8px;color:#555;font-weight:400;letter-spacing:-0.121px;">Phishing</div>
<div class="r" style="left:420.3px;top:347.70000000000005px;width:26px;height:9.3px;background:#de2c26;border-radius:1px;"></div>
<div class="t" style="left:423.00px;top:351.66px;font-size:5.4px;line-height:5.4px;color:#fff;font-weight:700;letter-spacing:-0.08px;">Blocked</div>
<svg class="r" style="left:418.5px;top:369.0px;" width="9" height="10" viewBox="0 0 9 10"><g transform="rotate(45 4.5 5)"><rect x="2.7" y="0.5" width="3.6" height="9" rx="1.8" fill="none" stroke="#b0b0b0" stroke-width="0.8"/><path d="M4.5 2.4 V7" stroke="#b0b0b0" stroke-width="0.6"/></g></svg>
<div class="r" style="left:424.2px;top:367.30000000000007px;width:5.4px;height:5.2px;background:#2f2f2f;border-radius:0.6px;"></div>
<div class="t" style="left:425.60px;top:368.62px;font-size:4.2px;line-height:4.2px;color:#ddd;font-weight:700;">1</div>
<svg class="r" style="left:433.8px;top:370.30000000000007px;" width="9.5" height="8.5" viewBox="0 0 9.5 8.5"><path d="M1.5 0.6 H6.5 Q7.5 0.6 7.5 1.6 V4.6 Q7.5 5.6 6.5 5.6 H3.4 L1.6 7.6 V5.6 Q0.5 5.6 0.5 4.6 V1.6 Q0.5 0.6 1.5 0.6 Z" fill="#fff" fill-opacity="0.5" stroke="#b0b0b0" stroke-width="0.85" stroke-linejoin="round"/></svg>
<div class="r" style="left:440.2px;top:367.30000000000007px;width:5.3px;height:5.2px;background:#2f2f2f;border-radius:0.6px;"></div>
<div class="t" style="left:441.50px;top:368.62px;font-size:4.2px;line-height:4.2px;color:#ddd;font-weight:700;">2</div>
<div class="r" style="left:44px;top:393px;width:410px;height:6px;background:#fff;box-shadow:inset 0 0 0 1px #efefef;border-radius:2px;"></div>
<svg class="r" style="left:470px;top:109.7px;" width="4.5" height="6" viewBox="0 0 4.5 6"><path d="M0.6 0.6 L3.6 3 L0.6 5.4" fill="none" stroke="#666" stroke-width="0.9"/></svg>
<div class="t" style="left:483.20px;top:110.96px;font-size:6.6px;line-height:6.6px;color:#dadee3;font-weight:400;text-shadow:0.45px 0.3px 0 #e3e6ea, -0.3px -0.2px 0 #e8ebee;">blablacar.id2377721.ru</div>
<svg class="r" style="left:625px;top:108.3px;" width="8.5" height="8.5" viewBox="0 0 8.5 8.5"><path d="M3.5 0.6 H1.5 Q0.6 0.6 0.6 1.5 V7 Q0.6 7.9 1.5 7.9 H7 Q7.9 7.9 7.9 7 V5" fill="none" stroke="#666" stroke-width="0.9"/><path d="M3 5.5 L7.6 0.9 M5 0.7 H7.8 V3.5" fill="none" stroke="#666" stroke-width="0.9"/></svg>
<svg class="r" style="left:467.8px;top:133.8px;" width="8.5" height="8.5" viewBox="0 0 8.5 8.5"><circle cx="4.25" cy="4.25" r="3.7" fill="none" stroke="#777" stroke-width="0.8"/><path d="M4.25 3.6 V6.3" stroke="#777" stroke-width="0.8"/><circle cx="4.25" cy="2.4" r="0.45" fill="#777"/></svg>
<div class="r" style="left:464px;top:155.5px;width:16.2px;height:15.2px;background:#eeeeee;border-radius:1.5px;"></div>
<svg class="r" style="left:467.8px;top:158.8px;" width="9" height="8.5" viewBox="0 0 9 8.5"><path d="M0.6 0.6 H8.2 V5.6 H3.5 L1.6 7.6 V5.6 H0.6 Z" fill="none" stroke="#555" stroke-width="0.9" stroke-linejoin="round"/><path d="M2.2 2.3 H5 M2.2 3.8 H4" stroke="#555" stroke-width="0.6"/></svg>
<svg class="r" style="left:467px;top:182.5px;" width="10" height="10" viewBox="0 0 10 10"><g transform="rotate(45 5 5)"><rect x="3" y="0.4" width="4" height="9.2" rx="2" fill="none" stroke="#a8a8a8" stroke-width="0.85"/><path d="M5 2.6 V7.2" stroke="#a8a8a8" stroke-width="0.7"/></g></svg>
<svg class="r" style="left:467px;top:208.5px;" width="10" height="10" viewBox="0 0 10 10"><g transform="rotate(45 5 5)"><rect x="3.1" y="0.3" width="3.8" height="5" rx="1.6" fill="none" stroke="#a8a8a8" stroke-width="0.85"/><rect x="3.1" y="4.7" width="3.8" height="5" rx="1.6" fill="none" stroke="#a8a8a8" stroke-width="0.85"/></g></svg>
<div class="t" style="left:495.00px;top:134.84px;font-size:6.9px;line-height:6.9px;color:#262626;font-weight:400;letter-spacing:-0.091px;">Комментарии</div>
<div class="r" style="left:542px;top:132px;width:10px;height:9px;background:#eeeeee;border-radius:1px;"></div>
<div class="t" style="left:545.20px;top:134.91px;font-size:6px;line-height:6px;color:#333;font-weight:400;">3</div>
<svg class="r" style="left:607px;top:133.5px;" width="6" height="6" viewBox="0 0 6 6"><path d="M3 0 V6 M0 3 H6" stroke="#777" stroke-width="0.8"/></svg>
<svg class="r" style="left:625px;top:133.5px;" width="8.5" height="6" viewBox="0 0 8.5 6"><path d="M0 0.5 H8.3 M0 2.8 H6 M0 5.1 H3.5" stroke="#777" stroke-width="0.8"/></svg>
<div class="t" style="left:494.80px;top:165.46px;font-size:5.7px;line-height:5.7px;color:#3a3a3a;font-weight:400;letter-spacing:-0.393px;">BI.ZONE CERT</div>
<div class="t" style="left:533.70px;top:165.42px;font-size:5.8px;line-height:5.8px;color:#707070;font-weight:400;letter-spacing:-0.14px;">13 янв. 2022, 15:47</div>
<div class="t" style="left:494.80px;top:173.66px;font-size:5.7px;line-height:5.7px;color:#606060;font-weight:400;letter-spacing:-0.285px;">ООО «БИЗон»</div>
<div class="t" style="left:494.80px;top:185.09px;font-size:5.9px;line-height:5.9px;color:#585858;font-weight:400;letter-spacing:-0.161px;">12:47:33 13.01.2022. Получено подтверждение</div>
<div class="t" style="left:494.80px;top:192.69px;font-size:5.9px;line-height:5.9px;color:#585858;font-weight:400;letter-spacing:-0.101px;">о блокировке ресурса.</div>
<svg class="r" style="left:629px;top:164.5px;" width="7" height="2" viewBox="0 0 7 2"><circle cx="0.8" cy="1" r="0.55" fill="#aaa"/><circle cx="3.4" cy="1" r="0.55" fill="#aaa"/><circle cx="6" cy="1" r="0.55" fill="#aaa"/></svg>
<div class="t" style="left:494.80px;top:212.26px;font-size:5.7px;line-height:5.7px;color:#3a3a3a;font-weight:400;letter-spacing:-0.393px;">BI.ZONE CERT</div>
<div class="t" style="left:533.70px;top:212.22px;font-size:5.8px;line-height:5.8px;color:#707070;font-weight:400;letter-spacing:-0.14px;">12 янв. 2022, 18:04</div>
<div class="t" style="left:494.80px;top:220.46px;font-size:5.7px;line-height:5.7px;color:#606060;font-weight:400;letter-spacing:-0.285px;">ООО «БИЗон»</div>
<div class="t" style="left:494.80px;top:231.89px;font-size:5.9px;line-height:5.9px;color:#585858;font-weight:400;letter-spacing:-0.255px;">15:04:16 12.01.2022. В REGRU отправлен</div>
<div class="t" style="left:494.80px;top:239.49px;font-size:5.9px;line-height:5.9px;color:#585858;font-weight:400;letter-spacing:-0.13px;">запрос на блокировку ресурса.</div>
<svg class="r" style="left:629px;top:211.3px;" width="7" height="2" viewBox="0 0 7 2"><circle cx="0.8" cy="1" r="0.55" fill="#aaa"/><circle cx="3.4" cy="1" r="0.55" fill="#aaa"/><circle cx="6" cy="1" r="0.55" fill="#aaa"/></svg>
<div class="t" style="left:494.80px;top:258.66px;font-size:5.7px;line-height:5.7px;color:#3a3a3a;font-weight:400;letter-spacing:-0.066px;">Владислав</div>
<div class="t" style="left:526.80px;top:258.62px;font-size:5.8px;line-height:5.8px;color:#707070;font-weight:400;letter-spacing:-0.174px;">12 янв. 2022, 17:40</div>
<div class="t" style="left:494.80px;top:266.86px;font-size:5.7px;line-height:5.7px;color:#606060;font-weight:400;letter-spacing:-0.285px;">ООО «БИЗон»</div>
<div class="t" style="left:494.80px;top:278.29px;font-size:5.9px;line-height:5.9px;color:#585858;font-weight:400;letter-spacing:-0.137px;">Ресурс взят в обработку</div>
<svg class="r" style="left:629px;top:257.7px;" width="7" height="2" viewBox="0 0 7 2"><circle cx="0.8" cy="1" r="0.55" fill="#aaa"/><circle cx="3.4" cy="1" r="0.55" fill="#aaa"/><circle cx="6" cy="1" r="0.55" fill="#aaa"/></svg>
</body></html>
